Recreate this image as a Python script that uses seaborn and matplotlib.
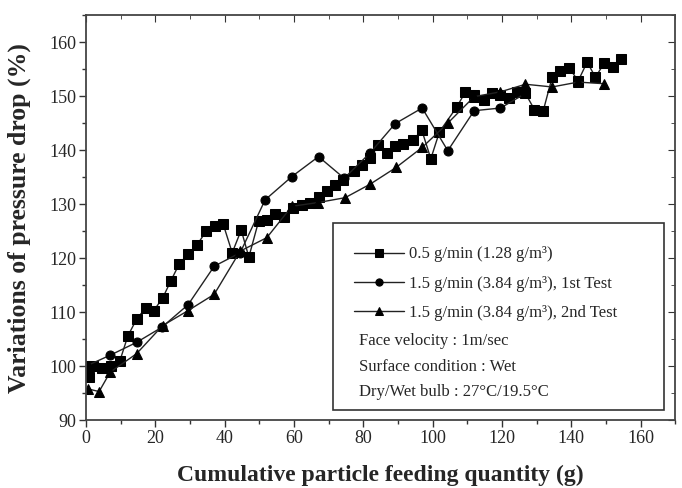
import matplotlib
matplotlib.use("Agg")
import matplotlib.pyplot as plt
import seaborn as sns
import pandas as pd
from matplotlib.patches import Rectangle
from matplotlib.ticker import MultipleLocator

# ---------------- data ----------------
sq_x = [0, 0.8, 2, 4.5, 7.3, 9.8, 12.1, 14.7, 17.3, 19.6, 22.2, 24.5, 26.9, 29.5, 32, 34.7,
        37.3, 39.6, 42.2, 44.8, 47, 49.8, 52.2, 54.6, 57, 59.7, 62.3, 64.7, 67.1, 69.5, 71.9,
        74.3, 77.2, 79.6, 82, 84.4, 86.8, 89.2, 91.6, 94.3, 96.9, 99.5, 102, 107, 109.5,
        112, 114.7, 117.2, 119.6, 122, 124.4, 126.8, 129.4, 131.9, 134.5, 136.9, 139.5,
        142, 144.6, 147, 149.6, 152, 154.4]
sq_y = [100, 98, 100, 99.7, 100, 101, 105.6, 108.8, 110.8, 110.3, 112.7, 115.8, 118.9, 120.8,
        122.4, 125, 125.9, 126.3, 121, 125.2, 120.2, 126.8, 127.1, 128.1, 127.6, 129.2, 129.9,
        130.2, 131.4, 132.4, 133.6, 134.5, 136.2, 137.3, 138.5, 141, 139.5, 140.8, 141.2,
        141.8, 143.7, 138.4, 143.4, 148, 150.8, 150.2, 149.2, 150.5, 150.3, 149.6, 150.8,
        150.5, 147.5, 147.2, 153.5, 154.6, 155.2, 152.8, 156.3, 153.5, 156.2, 155.4, 156.8]

ci_x = [0, 6.9, 14.6, 21.9, 29.5, 37, 44.5, 51.7, 59.4, 67.1, 74.5, 82, 89.2, 97, 104.4,
        112, 119.6, 126.8]
ci_y = [100, 102, 104.4, 107.2, 111.4, 118.5, 121, 130.8, 135.1, 138.8, 134.8, 139.5,
        144.9, 147.8, 139.9, 147.3, 147.8, 150.5]

tr_x = [0.5, 3.8, 7, 14.6, 22.1, 29.5, 37, 44.5, 52.2, 59.4, 67, 74.8, 82, 89.5, 97,
        104.4, 112, 119.6, 126.8, 134.5, 142, 149.5]
tr_y = [95.8, 95.3, 98.9, 102.3, 107.5, 110.3, 113.3, 121.3, 123.8, 129.6, 130.3, 131.2,
        133.7, 136.8, 140.5, 145, 149.9, 150.8, 152.2, 151.7, 152.6, 152.3]

series_labels = ["0.5 g/min (1.28 g/m³)",
                 "1.5 g/min (3.84 g/m³), 1st Test",
                 "1.5 g/min (3.84 g/m³), 2nd Test"]
info_lines = ["Face velocity : 1m/sec",
              "Surface condition : Wet",
              "Dry/Wet bulb : 27°C/19.5°C"]
x_label = "Cumulative particle feeding quantity (g)"
y_label = "Variations of pressure drop (%)"

# ---------------- style ----------------
sns.set_style("ticks")
plt.rcParams["font.family"] = ["Liberation Serif", "DejaVu Serif"]

fig = plt.figure(figsize=(6.82, 4.88), dpi=100)
ax = fig.add_axes([0.126, 0.139, 0.864, 0.830])

data = [(sq_x, sq_y, "s", series_labels[0]),
        (ci_x, ci_y, "o", series_labels[1]),
        (tr_x, tr_y, "^", series_labels[2])]
for xs, ys, mk, lab in data:
    df = pd.DataFrame({"x": xs, "y": ys})
    sns.lineplot(data=df, x="x", y="y", ax=ax, sort=False, estimator=None,
                 color="#222222", linewidth=1.0, marker=mk, markersize=6.5,
                 markerfacecolor="black", markeredgecolor="black", label=lab)

ax.set_xlim(0, 170)
ax.set_ylim(90, 165)
ax.set_xticks(range(0, 161, 20))
ax.set_yticks(range(90, 161, 10))
ax.xaxis.set_minor_locator(MultipleLocator(10))
ax.yaxis.set_minor_locator(MultipleLocator(5))
ax.tick_params(which="major", direction="out", length=5, width=1.0, labelsize=13,
               color="#333333", pad=2)
ax.tick_params(which="minor", direction="out", length=3, width=1.0, color="#333333")
for sp in ax.spines.values():
    sp.set_visible(True)
    sp.set_linewidth(1.3)
    sp.set_color("#444444")

# inward ticks on top and right
top = ax.secondary_xaxis("top")
top.set_xticks(range(0, 161, 20))
top.xaxis.set_minor_locator(MultipleLocator(10))
top.tick_params(which="both", direction="in", labeltop=False, color="#333333")
top.tick_params(which="major", length=5)
top.tick_params(which="minor", length=3)
top.spines["top"].set_visible(False)
right = ax.secondary_yaxis("right")
right.set_yticks(range(90, 161, 10))
right.yaxis.set_minor_locator(MultipleLocator(5))
right.tick_params(which="both", direction="in", labelright=False, color="#333333")
right.tick_params(which="major", length=5)
right.tick_params(which="minor", length=3)
right.spines["right"].set_visible(False)

ax.set_xlabel(x_label, fontsize=17, fontweight="bold", labelpad=13)
ax.set_ylabel(y_label, fontsize=18.5, fontweight="bold", labelpad=13)

# legend box
ax.add_patch(Rectangle((0.419, 0.025), 0.562, 0.461, transform=ax.transAxes,
                       fill=False, edgecolor="#333333", linewidth=1.2, zorder=5))
leg = ax.legend(loc="center left", bbox_to_anchor=(0.44, 0.337), frameon=False,
                fontsize=12, handlelength=3.0, handletextpad=0.3, labelspacing=0.8,
                borderpad=0.0, markerscale=0.8)
info_y = [0.195, 0.131, 0.069]
for t, yy in zip(info_lines, info_y):
    ax.text(0.463, yy, t, transform=ax.transAxes, fontsize=12,
            va="center", ha="left")

fig.savefig("out.png", dpi=100)
